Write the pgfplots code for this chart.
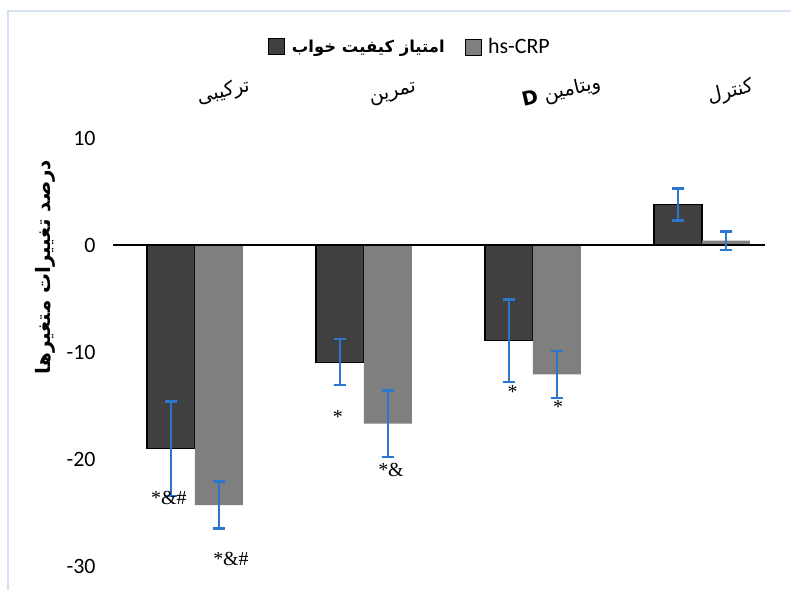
\documentclass[border=0pt]{standalone}
\usepackage{fontspec}
\usepackage{pgfplots}
\pgfplotsset{compat=1.18}
\setmainfont{Carlito}
\newfontfamily\arabicfont[Script=Arabic]{DejaVu Sans}
\newfontfamily\serifann{Liberation Serif}
\TeXXeTstate=1
\definecolor{darkbar}{HTML}{404040}
\definecolor{graybar}{HTML}{7F7F7F}
\definecolor{errblue}{HTML}{2E75CC}
\definecolor{frameblue}{HTML}{D5E3F5}
\begin{document}
\begin{tikzpicture}[x=1bp,y=1bp]
\useasboundingbox (0,0) rectangle (791,590);
\draw[frameblue, line width=2bp] (8,0) -- (8,579) -- (791,579);
\begin{axis}[
  at={(113bp,24bp)}, anchor=south west,
  scale only axis, width=652bp, height=428bp,
  ymin=-30, ymax=10, xmin=-0.485, xmax=3.373,
  ytick={-30,-20,-10,0,10},
  xtick={0,1,2,3},
  xticklabels={{\beginR ترکیبی\endR},{\beginR تمرین\endR},{\beginR ویتامین \textbf{D}\endR},{\beginR کنترل\endR}},
  xticklabel pos=upper,
  axis line style={draw=none}, tick style={draw=none},
  /pgf/number format/assume math mode=true,
  yticklabel style={font=\fontsize{22}{22}\selectfont, xshift=-14bp},
  xticklabel style={font=\arabicfont\fontsize{19.5}{20}\selectfont, rotate=13, anchor=south, yshift=25bp, xshift=38bp},
  legend style={at={(0.455,1.213)}, anchor=center, draw=none, fill=none, legend columns=2,
    /tikz/every odd column/.append style={column sep=5bp},
    /tikz/every even column/.append style={column sep=18bp}},
  legend image code/.code={\draw[#1] (0bp,-8bp) rectangle (16bp,8bp);},
  unbounded coords=jump,
]
\addplot[ybar, bar width=48bp, bar shift=-24bp, fill=darkbar, draw=black, line width=1.3bp]
  coordinates {(0,-19.05) (1,-10.95) (2,-8.95) (3,3.8)};
\addlegendentry{\arabicfont\bfseries\fontsize{16.5}{17}\selectfont\beginR امتیاز کیفیت خواب\endR}
\addplot[ybar, bar width=48bp, bar shift=24bp, fill=graybar, draw=none]
  coordinates {(0,-24.3) (1,-16.7) (2,-12.1) (3,0.4)};
\addlegendentry{\fontsize{22}{22}\selectfont hs-CRP}
\draw[black, line width=1.3bp] (axis cs:-0.485,0) -- (axis cs:3.373,0);
% error bars of the dark series (low and high ends)
\addplot[forget plot, errblue, line width=2.6bp, mark=none] coordinates {
  (-0.178,-14.65) (-0.106,-14.65) (-0.142,-14.65) (-0.142,-23.45) (-0.178,-23.45) (-0.106,-23.45) (nan,nan)
  (0.822,-8.8) (0.894,-8.8) (0.858,-8.8) (0.858,-13.1) (0.822,-13.1) (0.894,-13.1) (nan,nan)
  (1.822,-5.1) (1.894,-5.1) (1.858,-5.1) (1.858,-12.8) (1.822,-12.8) (1.894,-12.8) (nan,nan)
  (2.822,5.3) (2.894,5.3) (2.858,5.3) (2.858,2.3) (2.822,2.3) (2.894,2.3)
};
% error bars of the gray series (low and high ends)
\addplot[forget plot, errblue, line width=2.6bp, mark=none] coordinates {
  (0.106,-22.1) (0.178,-22.1) (0.142,-22.1) (0.142,-26.5) (0.106,-26.5) (0.178,-26.5) (nan,nan)
  (1.106,-13.6) (1.178,-13.6) (1.142,-13.6) (1.142,-19.8) (1.106,-19.8) (1.178,-19.8) (nan,nan)
  (2.106,-9.9) (2.178,-9.9) (2.142,-9.9) (2.142,-14.3) (2.106,-14.3) (2.178,-14.3) (nan,nan)
  (3.106,1.25) (3.178,1.25) (3.142,1.25) (3.142,-0.45) (3.106,-0.45) (3.178,-0.45)
};
\begin{scope}[every node/.style={font=\serifann\fontsize{20}{20}\selectfont}]
\node at (axis cs:-0.154,-23.6) {*\&\#};
\node at (axis cs:0.213,-29.3) {*\&\#};
\node at (axis cs:0.846,-16.1) {*};
\node at (axis cs:1.16,-21.0) {*\&};
\node at (axis cs:1.88,-13.7) {*};
\node at (axis cs:2.148,-15.1) {*};
\end{scope}
\end{axis}
\node[rotate=90, font=\arabicfont\bfseries\fontsize{20}{20}\selectfont] at (45,323) {\beginR درصد تغییرات متغیرها\endR};
\end{tikzpicture}
\end{document}
